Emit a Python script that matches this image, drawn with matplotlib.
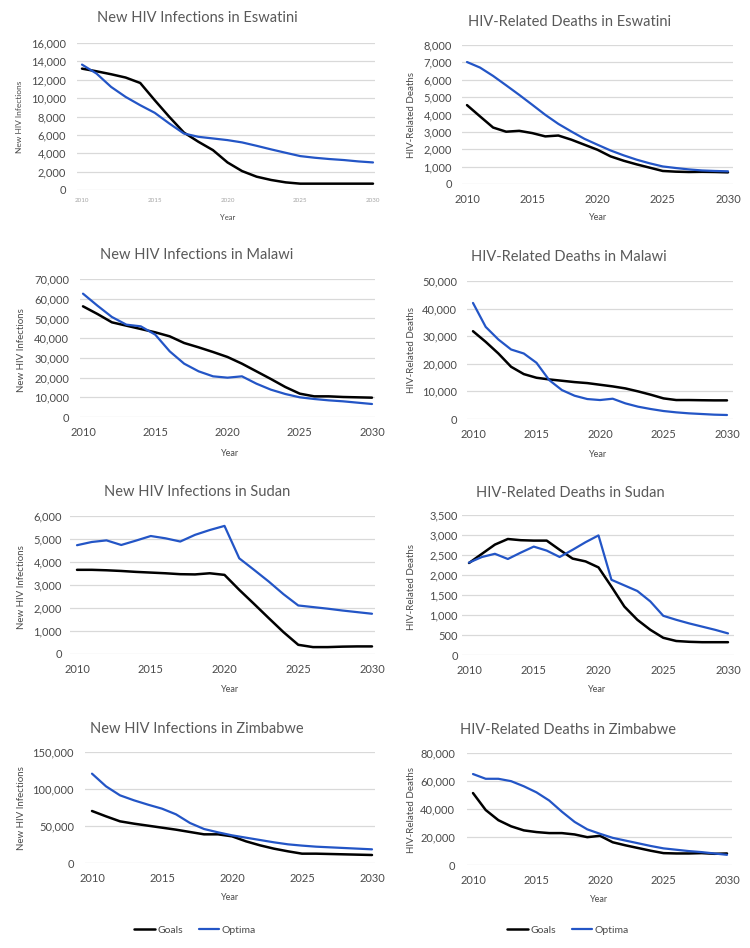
import matplotlib
matplotlib.use("Agg")
import matplotlib.pyplot as plt

plt.rcParams["font.family"] = ["Lato", "DejaVu Sans"]

years = list(range(2010, 2031))
x_ticks = [2010, 2015, 2020, 2025, 2030]

# Eswatini - new infections
esw_inf_goals = [13210, 12920, 12600, 12240, 11650, 9770, 7960, 6260, 5250, 4340, 3000,
                 2060, 1450, 1090, 830, 690, 690, 690, 690, 690, 690]
esw_inf_optima = [13650, 12670, 11220, 10130, 9230, 8400, 7240, 6150, 5790, 5610, 5430,
                  5180, 4810, 4420, 4050, 3690, 3510, 3370, 3260, 3110, 3000]
# Eswatini - deaths
esw_dth_goals = [4540, 3890, 3250, 3010, 3060, 2930, 2740, 2790, 2550, 2260, 1970,
                 1590, 1340, 1130, 940, 750, 710, 690, 700, 690, 670]
esw_dth_optima = [7020, 6700, 6220, 5680, 5130, 4560, 3980, 3460, 3020, 2600, 2260,
                  1930, 1650, 1400, 1190, 1010, 920, 840, 780, 750, 730]
# Malawi - new infections
mwi_inf_goals = [56140, 52250, 48020, 46330, 44640, 42950, 40920, 37540, 35340, 32970, 30440,
                 27050, 23170, 19280, 15220, 11840, 10480, 10480, 10150, 9980, 9810]
mwi_inf_optima = [62560, 56470, 50730, 46840, 45990, 41770, 33310, 27050, 23170, 20630, 19950,
                  20630, 16910, 13870, 11670, 9980, 9130, 8450, 7950, 7270, 6590]
# Malawi - deaths
mwi_dth_goals = [31810, 27950, 23730, 18920, 16270, 14940, 14340, 13860, 13370, 13010, 12410,
                 11810, 11080, 10000, 8800, 7470, 6870, 6870, 6800, 6750, 6750]
mwi_dth_optima = [42050, 33370, 28800, 25180, 23730, 20360, 14100, 10480, 8430, 7230, 6870,
                  7350, 5660, 4460, 3610, 2890, 2410, 2050, 1810, 1570, 1450]
# Sudan - new infections
sdn_inf_goals = [3660, 3660, 3640, 3610, 3570, 3540, 3510, 3470, 3460, 3510, 3440,
                 2790, 2180, 1560, 950, 400, 300, 300, 320, 330, 330]
sdn_inf_optima = [4730, 4870, 4940, 4740, 4930, 5130, 5030, 4890, 5180, 5390, 5570,
                  4160, 3660, 3150, 2600, 2110, 2040, 1970, 1890, 1820, 1750]
# Sudan - deaths
sdn_dth_goals = [2300, 2530, 2760, 2900, 2870, 2860, 2860, 2630, 2410, 2340, 2190,
                 1710, 1210, 880, 630, 430, 350, 330, 320, 320, 320]
sdn_dth_optima = [2310, 2450, 2530, 2400, 2560, 2710, 2610, 2450, 2630, 2820, 2990,
                  1880, 1740, 1600, 1340, 980, 880, 790, 710, 630, 540]
# Zimbabwe - new infections
zwe_inf_goals = [70270, 63060, 56310, 53150, 50450, 47750, 45050, 41890, 38740, 38740, 36040,
                 29280, 23870, 19370, 15770, 12610, 12610, 12160, 11710, 11260, 10810]
zwe_inf_optima = [120720, 103600, 91440, 84680, 78830, 73420, 65770, 54050, 45950, 41440, 37390,
                  34230, 31080, 27930, 25230, 23500, 22070, 21170, 20270, 19370, 18470]
# Zimbabwe - deaths
zwe_dth_goals = [51390, 39270, 32000, 27640, 24730, 23520, 22790, 22790, 21820, 19880, 20850,
                 16240, 14060, 12120, 10180, 8480, 8240, 8240, 8480, 8000, 8240]
zwe_dth_optima = [64970, 61580, 61580, 59880, 56240, 51880, 46060, 38060, 30790, 25450, 22300,
                  19390, 17450, 15520, 13580, 11880, 10910, 9940, 9210, 8240, 7270]

titles = ["New HIV Infections in Eswatini", "HIV-Related Deaths in Eswatini",
          "New HIV Infections in Malawi", "HIV-Related Deaths in Malawi",
          "New HIV Infections in Sudan", "HIV-Related Deaths in Sudan",
          "New HIV Infections in Zimbabwe", "HIV-Related Deaths in Zimbabwe"]
ylabels = ["New HIV Infections", "HIV-Related Deaths"] * 4
xlabel = "Year"
series_names = ["Goals", "Optima"]
goals = [esw_inf_goals, esw_dth_goals, mwi_inf_goals, mwi_dth_goals,
         sdn_inf_goals, sdn_dth_goals, zwe_inf_goals, zwe_dth_goals]
optima = [esw_inf_optima, esw_dth_optima, mwi_inf_optima, mwi_dth_optima,
          sdn_inf_optima, sdn_dth_optima, zwe_inf_optima, zwe_dth_optima]
ymax = [16000, 8000, 70000, 50000, 6000, 3500, 150000, 80000]
ystep = [2000, 1000, 10000, 10000, 1000, 500, 50000, 20000]

W, H = 750, 948
fig = plt.figure(figsize=(W / 100, H / 100), dpi=100)

# layout in pixels: grid left, grid right, top, bottom, x of 2010, x of 2030, ytick gap
layout = [
    dict(gl=77, gr=375, top=43, bot=190, x0=82, x1=373, gap=11, title=(197, 18), ylab=(20, 117), xlab=(228, 217)),
    dict(gl=462, gr=733, top=45, bot=184, x0=467, x1=728, gap=10, title=(570, 22), ylab=(412, 115), xlab=(598, 218)),
    dict(gl=80, gr=375, top=279, bot=417, x0=83, x1=372, gap=11, title=(197, 255), ylab=(22, 350), xlab=(230, 453)),
    dict(gl=467, gr=733, top=281, bot=419, x0=473, x1=727, gap=10, title=(569, 257), ylab=(412, 350), xlab=(598, 454)),
    dict(gl=70, gr=375, top=516, bot=654, x0=77, x1=372, gap=8, title=(197, 492), ylab=(22, 587), xlab=(230, 690)),
    dict(gl=462, gr=734, top=515, bot=655, x0=469, x1=728, gap=4, title=(570, 493), ylab=(412, 587), xlab=(597, 690)),
    dict(gl=85, gr=375, top=752, bot=863, x0=92, x1=372, gap=11, title=(197, 729), ylab=(22, 808), xlab=(230, 898)),
    dict(gl=467, gr=732, top=753, bot=865, x0=473, x1=727, gap=12, title=(568, 730), ylab=(412, 810), xlab=(599, 900)),
]

BLUE = "#2355c6"
GRID = "#d9d9d9"
TXT = "#4a4a4a"

for i, L in enumerate(layout):
    ax = fig.add_axes([L["gl"] / W, 1 - L["bot"] / H, (L["gr"] - L["gl"]) / W, (L["bot"] - L["top"]) / H])
    scale = (L["x1"] - L["x0"]) / 20.0
    ax.set_xlim(2010 - (L["x0"] - L["gl"]) / scale, 2030 + (L["gr"] - L["x1"]) / scale)
    ax.set_ylim(0, ymax[i])
    ax.plot(years, goals[i], color="black", lw=1.8, solid_capstyle="round", label=series_names[0], zorder=3)
    ax.plot(years, optima[i], color=BLUE, lw=1.6, solid_capstyle="round", label=series_names[1], zorder=3)
    yt = list(range(0, ymax[i] + 1, ystep[i]))
    ax.set_yticks(yt)
    ax.set_yticklabels([f"{v:,}" for v in yt])
    ax.set_xticks(x_ticks)
    ax.set_xticklabels([str(v) for v in x_ticks])
    ax.grid(axis="y", color=GRID, lw=0.9)
    ax.set_axisbelow(True)
    for s in ax.spines.values():
        s.set_visible(False)
    small = (i == 0)
    ax.tick_params(axis="both", length=0)
    ax.tick_params(axis="y", pad=L["gap"] * 0.72, labelsize=8, labelcolor=TXT)
    ax.tick_params(axis="x", pad=(5.5 if small else 7.5), labelsize=(4.5 if small else 8),
                   labelcolor=("#a6a6a6" if small else TXT))
    fig.text(L["title"][0] / W, 1 - L["title"][1] / H, titles[i], ha="center", va="center",
             fontsize=10.5, color="#595959")
    fig.text(L["ylab"][0] / W, 1 - L["ylab"][1] / H, ylabels[i], ha="center", va="center",
             rotation=90, fontsize=(6 if small else 7), color=TXT)
    fig.text(L["xlab"][0] / W, 1 - L["xlab"][1] / H, xlabel, ha="center", va="center",
             fontsize=(5.5 if small else 6.5), color=TXT)
    if i >= 6:
        cx = 195 if i == 6 else 568
        leg = fig.legend(handles=ax.get_lines(), labels=series_names, loc="center",
                         bbox_to_anchor=(cx / W, 1 - 930 / H), ncol=2, frameon=False,
                         fontsize=7.5, handlelength=2.0, handletextpad=0.2, columnspacing=1.5,
                         labelcolor=TXT)

fig.savefig("out.png", dpi=100, facecolor="white")
